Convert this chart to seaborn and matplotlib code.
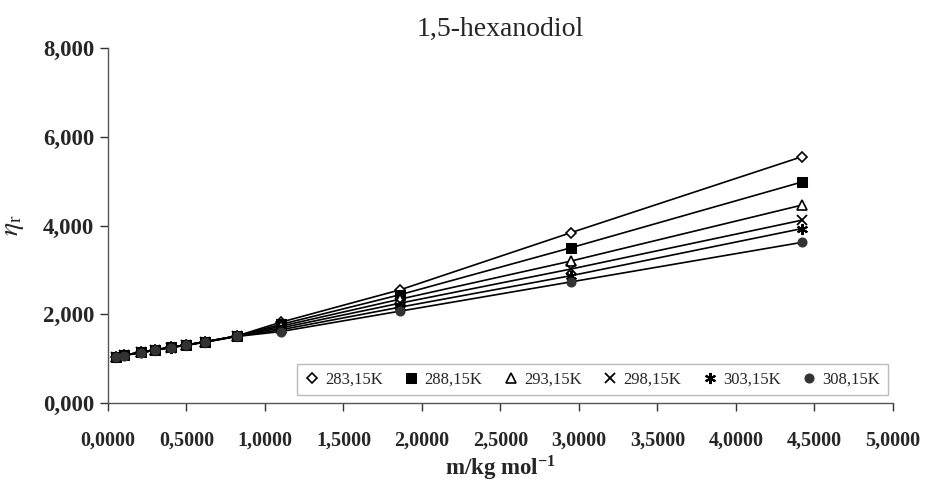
import numpy as np
import pandas as pd
import matplotlib
matplotlib.use("Agg")
import matplotlib.pyplot as plt
import seaborn as sns
from matplotlib.ticker import FuncFormatter, MultipleLocator

# ---- data ----
m = [0.05, 0.10, 0.21, 0.30, 0.40, 0.50, 0.62, 0.82, 1.10, 1.86, 2.95, 4.42]
eta_283 = [1.04, 1.08, 1.14, 1.20, 1.26, 1.31, 1.38, 1.51, 1.82, 2.55, 3.84, 5.55]
eta_288 = [1.04, 1.08, 1.14, 1.20, 1.26, 1.31, 1.38, 1.51, 1.77, 2.44, 3.50, 4.98]
eta_293 = [1.04, 1.08, 1.14, 1.19, 1.26, 1.31, 1.38, 1.51, 1.73, 2.34, 3.20, 4.46]
eta_298 = [1.03, 1.08, 1.14, 1.19, 1.25, 1.31, 1.38, 1.51, 1.69, 2.25, 3.02, 4.12]
eta_303 = [1.03, 1.08, 1.14, 1.19, 1.25, 1.30, 1.38, 1.50, 1.65, 2.16, 2.87, 3.93]
eta_308 = [1.03, 1.07, 1.13, 1.19, 1.25, 1.30, 1.37, 1.50, 1.61, 2.07, 2.73, 3.62]
labels = ["283,15K", "288,15K", "293,15K", "298,15K", "303,15K", "308,15K"]
series = [eta_283, eta_288, eta_293, eta_298, eta_303, eta_308]
x_ticks = [0.0, 0.5, 1.0, 1.5, 2.0, 2.5, 3.0, 3.5, 4.0, 4.5, 5.0]
y_ticks = [0, 2, 4, 6, 8]

sns.set_style("ticks")
plt.rcParams['font.family'] = ['Liberation Serif', 'DejaVu Serif']
plt.rcParams['mathtext.fontset'] = 'stix'

fig = plt.figure(figsize=(9.35, 4.83), dpi=100)
ax = fig.add_axes([0.1155, 0.1656, 0.955 - 0.1155, 0.9006 - 0.1656])

styles = [
    dict(marker='D', markersize=5.5, markerfacecolor='white', markeredgecolor='black', markeredgewidth=1.2),
    dict(marker='s', markersize=6.5, markerfacecolor='black', markeredgecolor='black'),
    dict(marker='^', markersize=7, markerfacecolor='white', markeredgecolor='black', markeredgewidth=1.2),
    dict(marker='x', markersize=7, markeredgecolor='black', markeredgewidth=1.3),
    dict(marker=(6, 2, 0), markersize=8, markeredgecolor='black', markeredgewidth=1.5),
    dict(marker='o', markersize=6.5, markerfacecolor='#333333', markeredgecolor='#333333'),
]

for lab, vals, st in zip(labels, series, styles):
    df = pd.DataFrame({"m": m, "eta": vals})
    sns.lineplot(data=df, x="m", y="eta", ax=ax, color='black', linewidth=1.2,
                 sort=False, estimator=None, label=lab, **st)

ax.set_xlim(0, 5)
ax.set_ylim(0, 8)
ax.set_xticks(x_ticks)
ax.set_yticks(y_ticks)
ax.xaxis.set_major_formatter(FuncFormatter(lambda v, p: f"{v:.4f}".replace('.', ',')))
ax.yaxis.set_major_formatter(FuncFormatter(lambda v, p: f"{v:.3f}".replace('.', ',')))
for t in ax.get_xticklabels():
    t.set_fontsize(14.5); t.set_fontweight('bold')
for t in ax.get_yticklabels():
    t.set_fontsize(16.5); t.set_fontweight('bold')
ax.tick_params(axis='both', direction='out', length=6, width=1, color='#333333', pad=4)
ax.tick_params(axis='x', pad=14)

for s in ['top', 'right']:
    ax.spines[s].set_visible(False)
for s in ['left', 'bottom']:
    ax.spines[s].set_color('#555555')
    ax.spines[s].set_linewidth(1)

ax.set_xlabel(r"m/kg mol$^{\mathregular{-1}}$", fontsize=16.5, fontweight='bold', labelpad=2)
ax.set_ylabel(r"$\eta_{\mathregular{r}}$", fontsize=20, labelpad=12)
ax.set_title("1,5-hexanodiol", fontsize=20, pad=9)

leg = ax.legend(loc='lower right', bbox_to_anchor=(0.998, 0.012), ncol=6, fontsize=12,
                frameon=True, fancybox=False, handlelength=0.9, handletextpad=0.35,
                columnspacing=1.25, borderpad=0.45, borderaxespad=0.2)
leg.get_frame().set_edgecolor('#aaaaaa')
leg.get_frame().set_linewidth(1)
for h in leg.get_lines():
    h.set_linestyle('None')

fig.savefig("out.png", dpi=100, facecolor='white')
